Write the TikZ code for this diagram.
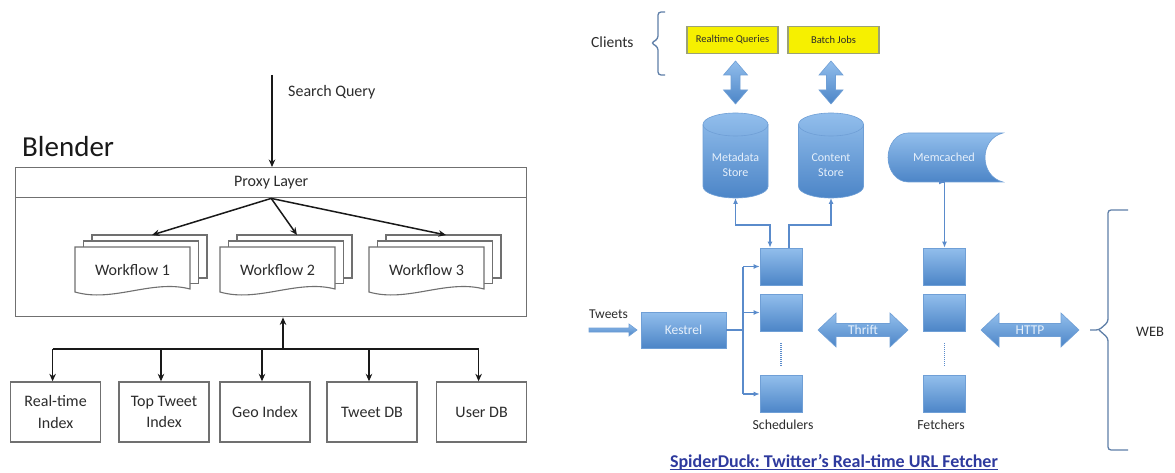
\documentclass[tikz,border=0pt]{standalone}
\usepackage{fontspec}
\setmainfont{Carlito}
\usetikzlibrary{arrows.meta}
\frenchspacing
\definecolor{bluetop}{HTML}{92BEEC}
\definecolor{bluebot}{HTML}{4C85C7}
\definecolor{blueline}{HTML}{5A8BCB}
\definecolor{blueedge}{HTML}{6F9FD6}
\definecolor{bluetext}{HTML}{E6F0FB}
\definecolor{graybox}{HTML}{707070}
\definecolor{darktext}{HTML}{2C2C2C}
\definecolor{yelfill}{HTML}{F6F000}
\definecolor{yeledge}{HTML}{9BA277}
\definecolor{titleblue}{HTML}{2E3A9E}
\definecolor{bracecol}{HTML}{5F7FA8}
\newcommand\fsz[2]{\fontsize{#1}{#2}\selectfont}
\begin{document}
\begin{tikzpicture}[x=1pt,y=-1pt,
  ltext/.style={text=darktext, font=\fsz{16}{21}, inner sep=0},
  lbox/.style={draw=graybox, line width=1.4pt, fill=white, minimum width=90pt, minimum height=60pt, inner sep=0, align=center, text=darktext, font=\fsz{16}{21.5}},
  larrow/.style={draw=black!90, line width=1.5pt, -{Stealth[length=7.5pt,width=6.5pt]}},
  wfline/.style={draw=graybox, line width=1.1pt, fill=white},
  bluefill/.style={top color=bluetop, bottom color=bluebot, draw=blueedge, line width=0.6pt},
  sched/.style={bluefill, minimum width=42pt, minimum height=37pt, inner sep=0},
  btext/.style={text=bluetext, inner sep=0, align=center},
  bline/.style={draw=blueline, line width=1.4pt},
  btip/.style={-{Latex[length=6pt,width=5pt]}},
  btips/.style={{Latex[length=6pt,width=5pt]}-{Latex[length=6pt,width=5pt]}},
  rtext/.style={text=darktext, inner sep=0},
  ybox/.style={draw=yeledge, line width=1.2pt, fill=yelfill, minimum width=91pt, minimum height=27pt, inner sep=0, text=darktext, font=\fsz{10.5}{12}},
  brace/.style={draw=bracecol, line width=1.3pt, rounded corners=3pt}
]
\useasboundingbox (0,0) rectangle (1175,473);
\fill[white] (0,0) rectangle (1175,473);

% ---------------- Left: Blender ----------------
\node[anchor=base west, inner sep=0, text=black!90, font=\fsz{29}{32}] (blender) at (22,157) {Blender};
\node[draw=graybox, line width=1.4pt, minimum width=511pt, minimum height=30pt, anchor=north west, inner sep=0, ltext] (proxy) at (15,167) {Proxy Layer};
\node[draw=graybox, line width=1.4pt, minimum width=511pt, minimum height=119pt, anchor=north west, inner sep=0] (body) at (15,197) {};

\coordinate (sq) at (272,75);
\draw[larrow] (sq) -- (sq |- proxy.north);
\node[ltext, anchor=west] (sqt) at (288,92) {Search Query};

\foreach \L/\i in {75/1,220/2,369/3}{
  \draw[wfline] (\L+17,235) rectangle (\L+132,278);
  \draw[wfline] (\L+8.5,241) rectangle (\L+123.5,283.5);
  \draw[wfline] (\L,247) -- (\L+115,247) -- (\L+115,289) .. controls (\L+77,279) and (\L+38,303) .. (\L,292) -- cycle;
  \node[ltext] (wf\i) at (\L+57.5,270) {Workflow \i};
  \coordinate (wftop\i) at (\L+77,235);
}
\foreach \i in {1,2,3}{
  \draw[larrow] (proxy.south) -- (wftop\i);
}

\node[lbox] (b1) at (55.6,412) {Real-time\\Index};
\node[lbox] (b2) at (164,412) {Top Tweet\\Index};
\node[lbox] (b3) at (265,412) {Geo Index};
\node[lbox] (b4) at (372,412) {Tweet DB};
\node[lbox] (b5) at (481.6,412) {User DB};
\coordinate (bus) at (283,349);
\draw[larrow] (bus) -- (bus |- body.south);
\draw[draw=black!90, line width=1.5pt] ([xshift=-3pt]b1.north |- bus) -- ([xshift=-3pt]b5.north |- bus);
\foreach \i in {1,...,5}{
  \draw[larrow] ([xshift=-3pt]b\i.north |- bus) -- ([xshift=-3pt]b\i.north);
}

% ---------------- Right: SpiderDuck ----------------
\node[rtext, anchor=west, font=\fsz{15.5}{18}] (clients) at (591,42) {Clients};
\draw[brace] (665,12) -- (658,12) -- (658,39) -- (651,43) -- (658,47) -- (658,75) -- (665,75);

\node[ybox] (rq) at (732.5,40) {Realtime Queries};
\node[ybox] (bj) at (833.5,40) {Batch Jobs};

% vertical double block arrows
\foreach \c in {735.5,831}{
  \draw[bluefill] (\c,61) -- (\c+12,75) -- (\c+4.5,75) -- (\c+4.5,90) -- (\c+12,90) -- (\c,104)
     -- (\c-12,90) -- (\c-4.5,90) -- (\c-4.5,75) -- (\c-12,75) -- cycle;
}

% cylinders
\foreach \c/\n/\t in {735.5/meta/{Metadata\\Store},831/cont/{Content\\Store}}{
  \draw[bluefill] (\c-32.5,124.5) -- (\c-32.5,186.5)
     arc[start angle=180, end angle=0, x radius=32.5, y radius=11.5]
     -- (\c+32.5,124.5)
     arc[start angle=0, end angle=-180, x radius=32.5, y radius=11.5] -- cycle;
  \draw[draw=blueedge, line width=0.6pt] (\c-32.5,124.5) arc[start angle=180, end angle=0, x radius=32.5, y radius=11.5];
  \node[btext, font=\fsz{12}{15}] (\n) at (\c,165) {\t};
  \coordinate (\n bot) at (\c,198);
}

% memcached
\draw[bluefill] (1003,133) -- (908,133)
   arc[start angle=-90, end angle=-270, x radius=20, y radius=24.5]
   -- (1003,182) .. controls (979,176) and (979,139) .. (1003,133) -- cycle;
\node[btext, font=\fsz{12.3}{15}] (memc) at (944,157) {Memcached};
\coordinate (memcbot) at (945,182);

% schedulers and fetchers
\node[sched] (s1) at (781,266.5) {};
\node[sched] (s2) at (781,312.5) {};
\node[sched] (s3) at (781,394) {};
\node[sched] (f1) at (944.5,266.5) {};
\node[sched] (f2) at (944.5,312.5) {};
\node[sched] (f3) at (944.5,394) {};
\draw[draw=blueline, line width=1.3pt, dash pattern=on 1pt off 1pt] (s2.south) ++(0,12) -- ++(0,24);
\draw[draw=blueline, line width=1.3pt, dash pattern=on 1pt off 1pt] (f2.south) ++(0,12) -- ++(0,24);
\node[rtext, font=\fsz{13.8}{16}] (schl) at (783,425) {Schedulers};
\node[rtext, font=\fsz{13.8}{16}] (fetl) at (941,425) {Fetchers};

% kestrel and tweets
\node[bluefill, minimum width=85pt, minimum height=36pt, inner sep=0, btext, font=\fsz{13.5}{16}] (kes) at (683.5,330) {Kestrel};
\node[rtext, anchor=west, font=\fsz{13.5}{16}] (tw) at (589,314) {Tweets};
\draw[bluefill] (589,328) -- (629,328) -- (629,324) -- (637,330) -- (629,336) -- (629,332) -- (589,332) -- cycle;

\coordinate (kbus) at (743,330);
\draw[bline] (kes.east) -- (kbus);
\draw[bline] (s1.west -| kbus) -- (s3.west -| kbus);
\foreach \i in {1,2,3}{
  \draw[bline, btip] (s\i.west -| kbus) -- (s\i.west);
}

% connections to stores
\coordinate (lvl) at (0,225);
\draw[bline, btips] (metabot) -- (metabot |- lvl) -| ([xshift=-11pt]s1.north);
\draw[bline, btip] ([xshift=8pt]s1.north) |- (contbot |- lvl) -- (contbot);
\draw[bline, btips] (memcbot) -- (f1.north |- memcbot) -- (f1.north);

% Thrift and HTTP block arrows
\draw[bluefill] (818,330) -- (836,313) -- (836,323.5) -- (890,323.5) -- (890,313) -- (908,330)
   -- (890,347) -- (890,336.5) -- (836,336.5) -- (836,347) -- cycle;
\node[btext, font=\fsz{13.5}{16}] (thrift) at (863,330) {Thrift};
\draw[bluefill] (981,330) -- (999,313) -- (999,323.5) -- (1061,323.5) -- (1061,313) -- (1079,330)
   -- (1061,347) -- (1061,336.5) -- (999,336.5) -- (999,347) -- cycle;
\node[btext, font=\fsz{13.5}{16}] (http) at (1030,330) {HTTP};

% WEB brace
\draw[brace] (1128,210) -- (1108,210) -- (1108,322) -- (1099,330) -- (1090,330);
\draw[brace] (1099,330) -- (1108,338) -- (1108,450) -- (1128,450);
\node[rtext, anchor=west, font=\fsz{14.5}{17}] (web) at (1136,332) {WEB};

% title
\node[inner sep=0, text=titleblue, font=\bfseries\fsz{18}{21}] (title) at (834,462) {SpiderDuck: Twitter's Real-time URL Fetcher};
\draw[titleblue, line width=1.2pt] ([yshift=-2.5pt]title.base west) -- ([yshift=-2.5pt]title.base east);
\end{tikzpicture}
\end{document}
